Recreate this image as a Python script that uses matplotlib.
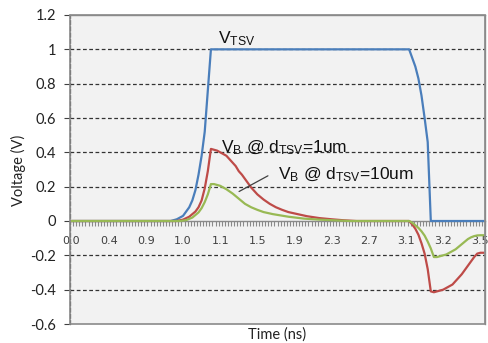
"Recreate TSV coupling voltage chart"

import matplotlib
matplotlib.use("Agg")
import matplotlib.pyplot as plt
from matplotlib.patches import Rectangle

plt.rcParams['mathtext.fontset'] = 'custom'
plt.rcParams['mathtext.rm'] = 'Liberation Sans'
plt.rcParams['mathtext.it'] = 'Liberation Sans:italic'

# category labels (excel category axis, one label every 12 samples)
time_labels = ['0.0', '0.4', '0.9', '1.0', '1.1', '1.5',
               '1.9', '2.3', '2.7', '3.1', '3.2', '3.5']
label_step = 12
n_samples = 134

# V_TSV (sample index, volts)
vtsv_idx = [0, 32, 34, 36, 38, 39, 40, 41, 42, 43, 44, 45,
            109, 110, 111, 112, 113, 114, 115, 116, 133]
vtsv_val = [0, 0, 0.01, 0.03, 0.08, 0.12, 0.18, 0.27, 0.38, 0.52, 0.76, 1.0,
            1.0, 0.95, 0.9, 0.83, 0.73, 0.6, 0.46, 0.0, 0.0]

# V_B @ d_TSV = 1um
vb1_idx = [0, 34, 36, 38, 40, 41, 42, 43, 44, 45, 46, 47, 48, 49, 50,
           51, 52, 53, 54, 55, 56, 57, 58, 59, 60, 62, 64, 66, 68, 70,
           73, 76, 80, 84, 88, 92,
           109, 110, 111, 112, 113, 114, 115, 116, 117, 118, 119, 120,
           121, 122, 123, 124, 125, 126, 127, 128, 129, 130, 131, 132, 133]
vb1_val = [0, 0, 0.008, 0.025, 0.055, 0.08, 0.12, 0.19, 0.29, 0.42, 0.415,
           0.41, 0.4, 0.39, 0.38, 0.36, 0.34, 0.32, 0.29, 0.27, 0.245, 0.22,
           0.195, 0.175, 0.155, 0.125, 0.1, 0.08, 0.065, 0.052,
           0.04, 0.028, 0.017, 0.01, 0.004, 0,
           0, -0.02, -0.045, -0.08, -0.13, -0.19, -0.28, -0.41, -0.415,
           -0.41, -0.405, -0.4, -0.39, -0.38, -0.37, -0.35, -0.33, -0.31,
           -0.285, -0.26, -0.235, -0.21, -0.19, -0.185, -0.185]

# V_B @ d_TSV = 10um
vb10_idx = [0, 35, 37, 39, 41, 42, 43, 44, 45, 46, 47, 48, 49, 50, 52,
            54, 56, 58, 60, 62, 65, 70, 75, 80, 86, 90,
            109, 110, 111, 112, 113, 114, 115, 116, 117, 118, 119, 120,
            121, 122, 123, 124, 125, 126, 127, 128, 129, 130, 131, 132, 133]
vb10_val = [0, 0, 0.005, 0.02, 0.05, 0.075, 0.11, 0.155, 0.215, 0.215,
            0.21, 0.205, 0.195, 0.185, 0.16, 0.13, 0.1, 0.08, 0.065, 0.052,
            0.04, 0.025, 0.014, 0.008, 0.003, 0,
            0, -0.01, -0.025, -0.04, -0.06, -0.085, -0.12, -0.16, -0.21,
            -0.21, -0.205, -0.2, -0.195, -0.185, -0.175, -0.165, -0.15,
            -0.135, -0.12, -0.105, -0.095, -0.088, -0.084, -0.083, -0.083]

W, H = 489, 343
fig = plt.figure(figsize=(W / 100, H / 100), dpi=100)
ax = fig.add_axes([70 / W, 19 / H, 415 / W, 309 / H])
ax.set_facecolor('#f2f2f2')

ax.plot(vtsv_idx, vtsv_val, color='#4a7ebb', lw=1.6, zorder=3)
ax.plot(vb1_idx, vb1_val, color='#be4b48', lw=1.6, zorder=3)
ax.plot(vb10_idx, vb10_val, color='#98b954', lw=1.6, zorder=3)

ax.set_xlim(-0.5, n_samples - 0.5)
ax.set_ylim(-0.6, 1.2)

# y axis
ax.set_yticks([-0.6, -0.4, -0.2, 0, 0.2, 0.4, 0.6, 0.8, 1.0, 1.2])
ax.set_yticklabels(['-0.6', '-0.4', '-0.2', '0', '0.2', '0.4', '0.6',
                    '0.8', '1', '1.2'])
ax.tick_params(axis='y', direction='out', length=4, width=0.8,
               color='#404040', pad=6, labelsize=10.5, labelcolor='#222222')
for t in ax.get_yticklabels():
    t.set_fontfamily('Lato')

# x axis (category style)
ax.set_xticks(range(0, n_samples, label_step))
ax.set_xticklabels(time_labels)
ax.set_xticks([i - 0.5 for i in range(n_samples + 1)], minor=True)
ax.tick_params(axis='x', which='major', length=0, pad=11, labelsize=8,
               labelcolor='#404040')
ax.tick_params(axis='x', which='minor', direction='out', length=3.5,
               width=0.8, color='#8a8a8a')
for t in ax.get_xticklabels():
    t.set_fontfamily('Lato')
    t.set_fontweight('bold')

ax.spines['bottom'].set_position(('data', 0))
ax.spines['bottom'].set_color('#8a8a8a')
ax.spines['bottom'].set_linewidth(1.0)
ax.spines['left'].set_linestyle((0, (3, 2)))
ax.spines['left'].set_color('#404040')
ax.spines['left'].set_linewidth(0.9)
for s in ['top', 'right']:
    ax.spines[s].set_color('#8a8a8a')
    ax.spines[s].set_linewidth(1.0)
ax.add_patch(Rectangle((0, 0), 1, 1, transform=ax.transAxes, fill=False,
                       edgecolor='#8a8a8a', lw=1.2, zorder=4, clip_on=False))

# dashed gridlines
for g in [1.0, 0.8, 0.6, 0.4, 0.2, -0.2, -0.4]:
    ax.axhline(g, color='#333333', lw=0.9, ls=(0, (3, 2)), zorder=1)

# labels
fig.text(277 / W, 1 - 335 / H, 'Time (ns)', ha='center', va='center',
         fontsize=10.5, family='Lato', color='#222222')
fig.text(18 / W, 1 - 170 / H, 'Voltage (V)', ha='center', va='center',
         rotation=90, fontsize=10.5, family='Lato', color='#222222')

# annotations
ax.text(47.3, 1.037, r'V$_{\mathrm{TSV}}$', fontsize=12.5,
        family='Liberation Sans', va='baseline', color='#111111')
ax.text(48.3, 0.399, r'V$_{\mathrm{B}}$ @ d$_{\mathrm{TSV}}$=1um',
        fontsize=12.5, family='Liberation Sans', va='baseline', color='#111111')
ax.text(66.7, 0.242, r'V$_{\mathrm{B}}$ @ d$_{\mathrm{TSV}}$=10um',
        fontsize=12.5, family='Liberation Sans', va='baseline', color='#111111')
ax.annotate('', xy=(53.3, 0.164), xytext=(64.2, 0.271),
            arrowprops=dict(arrowstyle='-', color='#404040', lw=0.9))

fig.savefig('out.png', dpi=100)
